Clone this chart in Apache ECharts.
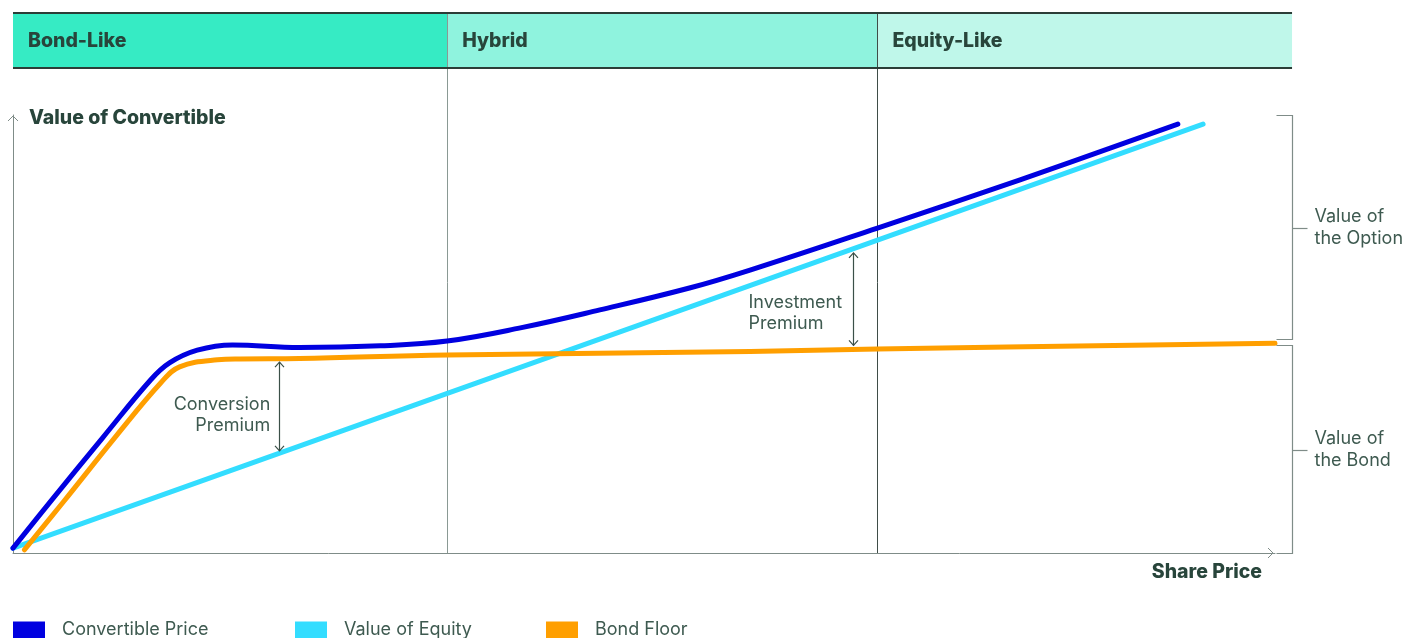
<!DOCTYPE html>
<html>
<head>
<meta charset="utf-8">
<script src="https://cdn.jsdelivr.net/npm/echarts@6/dist/echarts.min.js"></script>
<style>
html,body{margin:0;padding:0;background:#fff;}
#c{width:1405px;height:638px;}
</style>
</head>
<body>
<div id="c"></div>
<script>
// ---- data (conceptual units: share price 0..100, value 0..100) ----
const seriesNames = ['Convertible Price', 'Value of Equity', 'Bond Floor'];
const convertiblePrice = [[0,1.1],[2.9,11.5],[7.1,26.3],[10.9,39.5],[12.4,43.4],[14.6,46.3],[17.4,47.5],[22.7,46.9],[29.1,47.3],[34.4,48.4],[40.2,51.4],[46.5,55.5],[53.6,60.5],[58.4,64.6],[68.5,74.2],[79.8,85.2],[92.3,97.9]];
const valueOfEquity = [[0,1.1],[94.3,97.9]];
const bondFloor = [[0.9,0.7],[4.0,11.7],[8.2,26.8],[11.7,38.8],[13.2,42.5],[16.2,44.1],[18.0,44.3],[22.7,44.4],[34.4,45.2],[58.4,46.0],[68.5,46.6],[100,47.9]];
const phaseNames = ['Bond-Like', 'Hybrid', 'Equity-Like'];
const phaseBounds = [0, 34.4, 68.5, 101.35];
const axisNames = ['Share Price', 'Value of Convertible'];
const premiumLabels = ['Conversion\nPremium', 'Investment\nPremium'];
const premiumArrows = [[21.1, 43.6, 23.3], [66.6, 68.5, 47.4]]; // x, top, bottom
const bracketLabels = ['Value of\nthe Option', 'Value of\nthe Bond'];
const bracketRanges = [[100, 48.8], [47.4, 0]];

const colors = ['#0000e0', '#33ddff', '#ff9f00'];
const phaseColors = ['#36ebc4', '#8ff3de', '#bff7ea'];
const textDark = '#28453b';
const textMid = '#3e5a50';
const axisGray = '#7f8c88';
const FONT = 'Inter, "Noto Sans", sans-serif';
const BOLD = 19.5, REG = 18;

const chart = echarts.init(document.getElementById('c'), null, {renderer: 'canvas'});

const legendLefts = [13, 295, 546];
const legends = seriesNames.map((n, i) => ({
  data: [n], left: legendLefts[i], top: 621, icon: 'rect', itemWidth: 32, itemHeight: 17,
  padding: 0,
  textStyle: {fontFamily: FONT, fontSize: REG, color: textMid, padding: [0,0,0,12]},
  selectedMode: false
}));

function lineSeries(name, data, color) {
  return {
    name, type: 'line', data, smooth: 0.4, showSymbol: false,
    color, lineStyle: {width: 5, color, cap: 'round', join: 'round'}, z: 3, silent: true
  };
}

chart.setOption({
  animation: false,
  grid: {left: 13, right: 130, top: 115, bottom: 85},
  legend: legends,
  xAxis: {
    type: 'value', min: 0, max: 100,
    name: axisNames[0], nameLocation: 'end', nameGap: -13,
    nameTextStyle: {fontFamily: FONT, fontSize: BOLD, fontWeight: 800, color: textDark, align: 'right', verticalAlign: 'top', padding: [9,0,0,0]},
    axisLine: {show: true, lineStyle: {color: axisGray, width: 1}},
    axisTick: {show: false}, axisLabel: {show: false}, splitLine: {show: false}
  },
  yAxis: {
    type: 'value', min: 0, max: 100,
    name: axisNames[1], nameLocation: 'end', nameGap: -3,
    nameTextStyle: {fontFamily: FONT, fontSize: BOLD, fontWeight: 800, color: textDark, align: 'left', verticalAlign: 'middle', padding: [0,0,0,16]},
    axisLine: {show: true, lineStyle: {color: axisGray, width: 1}},
    axisTick: {show: false}, axisLabel: {show: false}, splitLine: {show: false}
  },
  series: [
    lineSeries(seriesNames[1], valueOfEquity, colors[1]),
    lineSeries(seriesNames[2], bondFloor, colors[2]),
    lineSeries(seriesNames[0], convertiblePrice, colors[0])
  ]
});

const P = (x, y) => chart.convertToPixel({gridIndex: 0}, [x, y]);
const g = [];
const yTop = 12, yHead = 68;
const [, yBase] = P(0, 0);
// header bands
for (let i = 0; i < 3; i++) {
  const x0 = P(phaseBounds[i], 0)[0], x1 = P(phaseBounds[i + 1], 0)[0];
  g.push({type: 'rect', shape: {x: x0, y: yTop, width: x1 - x0, height: yHead - yTop}, style: {fill: phaseColors[i]}, z: 1});
  g.push({type: 'text', x: x0 + 15, y: (yTop + yHead) / 2 + 1, style: {text: phaseNames[i], fontFamily: FONT, fontSize: BOLD, fontWeight: 800, fill: textDark, verticalAlign: 'middle'}, z: 5});
}
const hx0 = P(phaseBounds[0], 0)[0], hx1 = P(phaseBounds[3], 0)[0];
g.push({type: 'line', shape: {x1: hx0, y1: yTop + 1, x2: hx1, y2: yTop + 1}, style: {stroke: '#2b3d37', lineWidth: 2}, z: 4});
g.push({type: 'line', shape: {x1: hx0, y1: yHead, x2: hx1, y2: yHead}, style: {stroke: '#2b3d37', lineWidth: 2}, z: 4});
// phase divider lines
const divColors = ['#8a9994', '#3f4d48'];
for (let i = 1; i < 3; i++) {
  const x = Math.round(P(phaseBounds[i], 0)[0]) + 0.5;
  g.push({type: 'line', shape: {x1: x, y1: yTop, x2: x, y2: yBase}, style: {stroke: divColors[i - 1], lineWidth: 1}, z: 2});
}
// axis arrow chevrons
const [ax0, ayTop] = P(0, 100);
const [axEnd] = P(100, 0);
g.push({type: 'polyline', shape: {points: [[ax0 - 5, ayTop + 6], [ax0, ayTop + 1], [ax0 + 5, ayTop + 6]]}, style: {stroke: axisGray, lineWidth: 1, fill: null}, z: 4});
g.push({type: 'polyline', shape: {points: [[axEnd - 7, yBase - 5], [axEnd - 2, yBase], [axEnd - 7, yBase + 5]]}, style: {stroke: axisGray, lineWidth: 1, fill: null}, z: 4});
// premium arrows
const arrowColor = '#3b5048';
premiumArrows.forEach(([x, t, b]) => {
  const [px, pt] = P(x, t);
  const pb = P(x, b)[1];
  const xx = Math.round(px) + 0.5;
  g.push({type: 'line', shape: {x1: xx, y1: pt, x2: xx, y2: pb}, style: {stroke: arrowColor, lineWidth: 1.2}, z: 4});
  g.push({type: 'polyline', shape: {points: [[xx - 4.5, pt + 5], [xx, pt], [xx + 4.5, pt + 5]]}, style: {stroke: arrowColor, lineWidth: 1.2, fill: null}, z: 4});
  g.push({type: 'polyline', shape: {points: [[xx - 4.5, pb - 5], [xx, pb], [xx + 4.5, pb - 5]]}, style: {stroke: arrowColor, lineWidth: 1.2, fill: null}, z: 4});
});
// premium labels
{
  const [px, py] = P(premiumArrows[0][0], (premiumArrows[0][1] + premiumArrows[0][2]) / 2);
  g.push({type: 'text', x: px - 9, y: py + 9, style: {text: premiumLabels[0], fontFamily: FONT, fontSize: REG, lineHeight: 21, fill: textMid, align: 'right', verticalAlign: 'middle'}, z: 5});
  const [qx, qy] = P(premiumArrows[1][0], (premiumArrows[1][1] + premiumArrows[1][2]) / 2);
  g.push({type: 'text', x: qx - 105, y: qy + 14, style: {text: premiumLabels[1], fontFamily: FONT, fontSize: REG, lineHeight: 21, fill: textMid, align: 'left', verticalAlign: 'middle'}, z: 5});
}
// brackets
const bx = Math.round(hx1) + 0.5;
bracketRanges.forEach(([t, b], i) => {
  const pt = Math.round(P(0, t)[1]) + 0.5, pb = Math.round(P(0, b)[1]) + 0.5;
  const mid = Math.round((pt + pb) / 2) + 0.5;
  g.push({type: 'polyline', shape: {points: [[bx - 16, pt], [bx, pt], [bx, pb], [bx - 16, pb]]}, style: {stroke: axisGray, lineWidth: 1.2, fill: null}, z: 4});
  g.push({type: 'line', shape: {x1: bx, y1: mid, x2: bx + 15, y2: mid}, style: {stroke: axisGray, lineWidth: 1.2}, z: 4});
  g.push({type: 'text', x: bx + 22, y: mid - 1, style: {text: bracketLabels[i], fontFamily: FONT, fontSize: REG, lineHeight: 22, fill: textMid, align: 'left', verticalAlign: 'middle'}, z: 5});
});
chart.setOption({graphic: g});
</script>
</body>
</html>
